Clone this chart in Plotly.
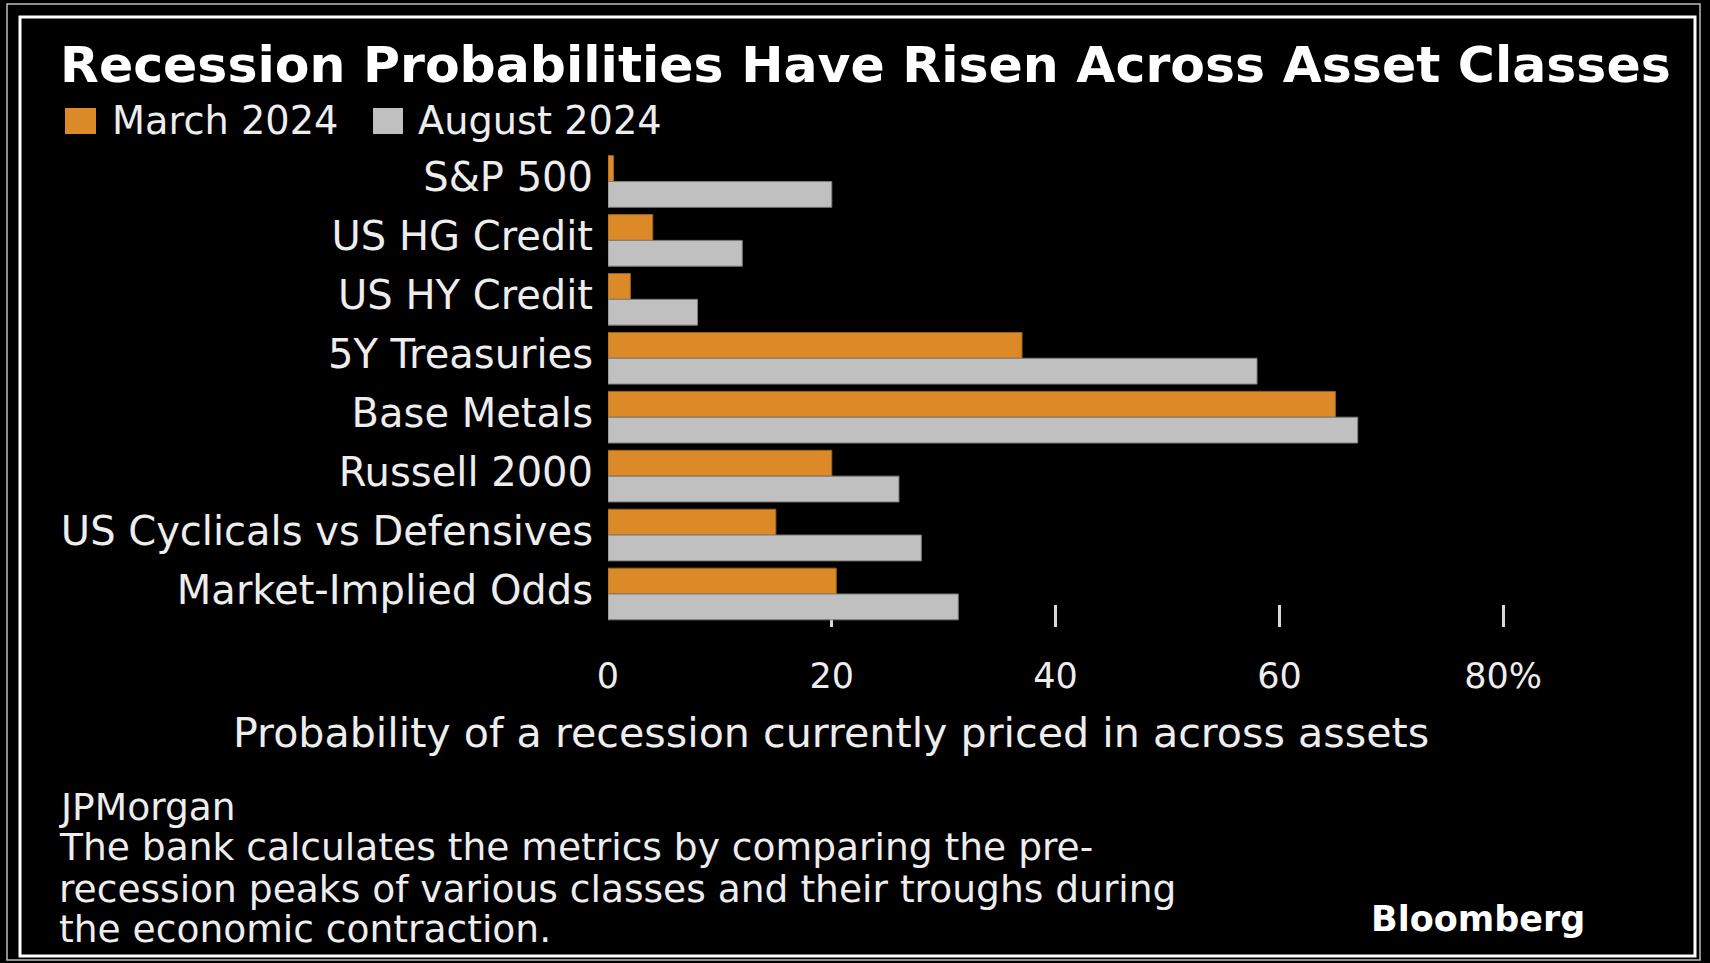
import plotly.graph_objects as go

categories = ["S&P 500", "US HG Credit", "US HY Credit", "5Y Treasuries",
              "Base Metals", "Russell 2000", "US Cyclicals vs Defensives",
              "Market-Implied Odds"]
march_2024 = [0.5, 4.0, 2.0, 37.0, 65.0, 20.0, 15.0, 20.4]
august_2024 = [20.0, 12.0, 8.0, 58.0, 67.0, 26.0, 28.0, 31.3]
tick_vals = [0, 20, 40, 60, 80]
tick_text = ["0", "20", "40", "60", "80%"]
series_names = ["March 2024", "August 2024"]

W, H = 1710, 963
L, R, T, B = 608, 180, 152, 336
PW, PH = W - L - R, H - T - B
X_MAX = PW / 11.19

ORANGE = "#DB8A27"
GREY = "#C0C0C0"
TXT = "#EDEDED"
FONT = "DejaVu Sans"


def px(x):
    return (x - L) / PW


def py(y):
    return 1 - (y - T) / PH


fig = go.Figure()
fig.add_trace(go.Bar(y=categories, x=march_2024, orientation="h", name=series_names[0],
                     marker=dict(color=ORANGE, line=dict(color="#9a6420", width=1)),
                     showlegend=False))
fig.add_trace(go.Bar(y=categories, x=august_2024, orientation="h", name=series_names[1],
                     marker=dict(color=GREY, line=dict(color="#7c7c7c", width=1)),
                     showlegend=False))
# empty helper trace so the tick-only overlay axis is rendered
fig.add_trace(go.Scatter(x=[None], y=[None], xaxis="x2", yaxis="y", mode="markers",
                         showlegend=False, hoverinfo="skip"))

shapes = [
    dict(type="rect", xref="paper", yref="paper", x0=px(7), x1=px(1700), y0=py(4), y1=py(960),
         line=dict(color="#bdbdbd", width=1.5), layer="below"),
    dict(type="rect", xref="paper", yref="paper", x0=px(20), x1=px(1695), y0=py(17), y1=py(956),
         line=dict(color="#ffffff", width=3), layer="below"),
    dict(type="rect", xref="paper", yref="paper", x0=px(65), x1=px(96), y0=py(108), y1=py(134),
         fillcolor=ORANGE, line=dict(width=0)),
    dict(type="rect", xref="paper", yref="paper", x0=px(373), x1=px(403), y0=py(108), y1=py(134),
         fillcolor=GREY, line=dict(width=0)),
]


def ann(text, x, y, size, xanchor="left", bold=False, color=TXT, pad=1):
    return dict(text=f"<b>{text}</b>" if bold else text, x=px(x), y=py(y), xref="paper", yref="paper",
                xanchor=xanchor, yanchor="middle", showarrow=False, borderpad=pad,
                font=dict(family=FONT, size=size, color=color))


annotations = [
    ann("Recession Probabilities Have Risen Across Asset Classes", 58, 65, 50.5, bold=True, color="#ffffff"),
    ann(series_names[0], 110, 121, 38.3),
    ann(series_names[1], 416, 121, 38.3),
    ann("Probability of a recession currently priced in across assets", 831, 733, 41.2, xanchor="center"),
    ann("JPMorgan", 58, 806.5, 37.6, pad=0),
    ann("The bank calculates the metrics by comparing the pre-", 58, 847, 37.6, pad=0),
    ann("recession peaks of various classes and their troughs during", 58, 888.5, 37.6, pad=0),
    ann("the economic contraction.", 58, 929, 37.6, pad=0),
    ann("Bloomberg", 1478, 919, 35, xanchor="center", bold=True, color="#ffffff"),
]

fig.update_layout(
    width=W, height=H, autosize=False,
    margin=dict(l=L, r=R, t=T, b=B, pad=0),
    paper_bgcolor="#000000", plot_bgcolor="#000000",
    barmode="group", bargap=0.124, bargroupgap=0,
    shapes=shapes, annotations=annotations,
    font=dict(family=FONT, color=TXT),
    xaxis=dict(range=[0, X_MAX], tickvals=tick_vals, ticktext=tick_text, ticks="",
               showgrid=False, zeroline=False, showline=False,
               tickfont=dict(family=FONT, size=35, color=TXT), ticklabelstandoff=25,
               layer="below traces", fixedrange=True),
    xaxis2=dict(range=[0, X_MAX], overlaying="x", anchor="y", side="bottom",
                tickvals=tick_vals[1:], ticks="inside", ticklen=22, tickwidth=2.5,
                tickcolor="#d8d8d8", showticklabels=False, showgrid=False, zeroline=False,
                showline=False, layer="below traces", fixedrange=True),
    yaxis=dict(categoryorder="array", categoryarray=categories, range=[7.56, -0.5],
               ticks="", showgrid=False, zeroline=False, showline=False,
               tickfont=dict(family=FONT, size=40, color=TXT), ticklabelstandoff=14,
               ticklabelshift=4, fixedrange=True),
)

fig.write_html("out.html", config={"displayModeBar": False})
